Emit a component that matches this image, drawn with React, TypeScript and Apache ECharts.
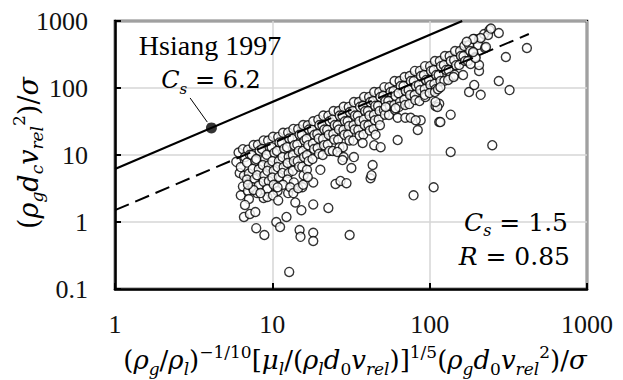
import { useEffect, useRef } from 'react';
import * as echarts from 'echarts';

const xTickLabels = ['1', '10', '100', '1000'];
const yTickLabels = ['0.1', '1', '10', '100', '1000'];

// Hsiang 1997 correlation (C_s = 6.2) and the fitted line (C_s = 1.5)
const hsiangLine = [[1, 6.2], [161, 1000]];
const fitLine = [[1, 1.5], [427, 640]];
const hsiangMarker = [[4.1, 25.4]];
const leaderLine = [[3.0, 71], [3.86, 31]];

const denseBand = [
  [6.1, 10.9], [5.9, 7.9], [6.2, 5.4],
  [6.5, 12.2], [6.7, 9.3], [6.3, 6.6], [6.6, 4.9], [6.5, 3.4], [6.3, 2.5],
  [7.0, 12.0], [7.2, 10.1], [6.9, 7.7], [7.1, 5.3], [6.9, 4.3], [7.0, 2.9], [7.1, 2.2],
  [7.6, 14.1], [7.4, 10.0], [7.8, 8.2], [7.5, 6.2], [7.7, 4.4], [7.5, 3.3],
  [8.1, 14.2], [8.3, 11.6], [7.9, 8.7], [8.2, 6.1], [8.0, 5.0], [8.2, 3.5], [8.0, 2.7],
  [8.8, 16.5], [8.6, 12.3], [9.0, 8.8], [8.7, 7.1], [8.9, 5.0], [8.8, 4.0],
  [9.4, 16.4], [9.6, 13.0], [9.2, 10.1], [9.5, 7.0], [9.3, 5.8], [9.5, 4.1], [9.3, 3.1],
  [10.1, 18.7], [9.9, 13.1], [10.3, 10.8], [10.0, 8.1], [10.2, 5.8], [10.0, 4.6], [10.2, 3.6],
  [10.9, 18.6], [11.1, 15.4], [10.7, 11.5], [11.0, 8.1], [10.8, 6.6], [11.0, 4.7], [10.8, 2.9],
  [11.7, 21.5], [11.5, 15.3], [11.9, 12.4], [11.6, 9.3], [11.8, 6.6], [11.6, 5.4],
  [12.6, 21.7], [12.8, 17.6], [12.4, 13.1], [12.7, 9.4], [12.5, 7.6], [12.7, 5.4], [12.5, 4.3],
  [13.6, 24.5], [13.4, 17.4], [13.8, 14.0], [13.5, 10.0], [13.7, 8.1], [13.5, 5.8], [13.7, 3.9],
  [14.6, 24.4], [14.9, 20.0], [14.4, 14.3], [14.7, 11.5], [14.5, 8.1], [14.8, 6.7],
  [15.7, 28.0], [15.4, 20.1], [16.0, 16.5], [15.6, 11.5], [15.9, 9.3], [15.5, 6.7], [15.8, 5.0],
  [16.8, 27.8], [17.1, 24.0], [16.5, 17.4], [16.9, 14.0], [16.6, 10.0], [17.0, 8.1],
  [18.2, 31.9], [17.9, 23.7], [18.5, 20.0], [18.1, 14.8], [18.4, 12.3], [18.0, 8.7],
  [19.6, 33.7], [19.9, 28.0], [19.3, 20.6], [19.7, 17.6], [19.4, 12.7], [19.8, 10.4],
  [21.1, 38.7], [20.8, 27.8], [21.4, 24.0], [21.0, 17.4], [21.3, 14.0], [20.9, 10.0],
  [22.7, 38.6], [23.1, 31.9], [22.3, 23.7], [22.8, 20.0], [22.5, 14.3], [23.0, 11.5],
  [24.5, 45.4], [24.1, 33.7], [24.9, 28.0], [24.4, 20.6], [24.7, 17.0], [24.2, 11.5],
  [26.4, 45.4], [26.8, 38.7], [26.0, 27.8], [26.5, 24.0], [26.2, 16.9], [26.7, 13.0],
  [28.4, 52.3], [27.9, 38.6], [28.9, 31.9], [28.3, 23.7], [28.7, 20.0], [28.1, 13.1],
  [30.6, 52.2], [31.1, 43.9], [30.1, 31.9], [30.7, 27.1], [30.3, 20.1], [30.9, 16.5],
  [33.0, 61.6], [32.5, 45.4], [33.5, 38.7], [32.8, 27.8], [33.3, 24.0], [32.7, 16.4],
  [35.5, 61.6], [36.1, 52.3], [34.9, 38.6], [35.7, 31.9], [35.2, 23.7], [35.9, 19.4],
  [38.3, 73.5], [37.7, 54.1], [38.9, 45.4], [38.1, 33.7], [38.6, 28.0], [37.9, 20.1],
  [41.2, 73.5], [41.9, 61.6], [40.5, 45.4], [41.4, 38.7], [40.8, 27.8], [41.6, 23.2],
  [44.4, 87.0], [43.7, 63.8], [45.1, 54.1], [44.2, 39.6], [44.8, 33.0], [43.9, 24.4],
  [47.8, 87.0], [48.6, 73.5], [47.0, 54.1], [48.0, 45.4], [47.4, 33.7], [48.3, 27.9],
  [51.5, 103], [50.7, 76.3], [52.3, 63.8], [51.2, 47.1], [51.9, 40.0],
  [55.5, 103], [56.4, 87.0], [54.6, 63.8], [55.8, 54.1], [55.1, 39.6],
  [59.8, 127], [58.9, 90.0], [60.7, 76.3], [59.5, 55.7], [60.3, 47.0],
  [64.4, 127], [65.4, 107], [63.4, 83.8], [64.7, 61.6], [64.0, 52.3],
  [69.3, 146], [68.2, 107], [70.4, 90.0], [69.0, 66.5], [69.8, 55.9],
  [74.7, 151], [75.9, 127], [73.5, 93.5], [75.0, 78.6], [74.2, 57.5],
  [80.5, 180], [79.2, 127], [81.8, 107], [80.2, 78.3], [81.0, 66.0],
  [86.7, 180], [88.1, 151], [85.3, 111], [87.0, 93.1], [86.1, 63.8],
  [93.4, 212], [91.9, 156], [94.9, 132], [93.0, 96.6], [93.9, 73.5],
  [100.6, 212], [102, 180], [99, 131], [101, 111],
  [108, 253], [106, 185], [110, 156], [107, 115], [109, 96],
  [116, 253], [118, 212], [114, 156], [117, 127],
  [125, 300], [123, 220], [127, 186], [124, 128],
  [134, 300], [136, 253], [132, 185], [135, 146],
  [145, 357], [143, 262], [147, 219], [144, 157],
  [156, 357], [158, 300], [154, 220],
  [166, 423], [164, 300], [168, 253],
  [178, 438], [181, 357], [175, 253],
  [192, 538], [189, 333], [195, 290],
  [206, 538], [203, 438],
  [222, 640], [225, 395],
  [240, 734], [275, 662],
];

const scattered = [
  [6.7, 1.8], [6.6, 1.19], [7.2, 1.32], [7.8, 1.41], [7.9, 0.81], [8.9, 0.64],
  [10.6, 1.0], [11.2, 0.84], [12.3, 1.19], [14.9, 0.76], [15.1, 0.6], [12.8, 0.18],
  [15.3, 1.5], [14.0, 1.96], [18.2, 1.83], [22.7, 1.62], [31, 0.64], [18.2, 0.69],
  [18.2, 0.52], [8.8, 2.28], [9.3, 2.36], [10.1, 2.5], [10.9, 2.1], [7.6, 3.0],
  [7.0, 3.6], [8.4, 2.7], [12.6, 2.7], [15.5, 3.3], [11.7, 3.6], [10.8, 3.3],
  [13.0, 3.3], [13.6, 2.7], [14.6, 3.2], [15.7, 3.6], [16.6, 6.0], [20.2, 6.0],
  [18.2, 3.9], [16.8, 4.7], [25.2, 3.7], [27.1, 4.1], [29.6, 3.8], [31.8, 6.4],
  [42.1, 4.5], [42.7, 5.0], [43.4, 7.1], [25.9, 11.1], [28.4, 9.3], [33, 9.3],
  [27.9, 8.4], [37.5, 15.1], [44.4, 14], [45.3, 20], [48.8, 13.1], [62.6, 16.7],
  [84, 23.6], [136, 11.1], [106, 3.3], [79, 2.5], [250, 14], [87.7, 33],
  [115, 31], [136, 40], [109, 54], [115, 58], [178, 87], [192, 111],
  [211, 79], [275, 127], [322, 93], [305, 290], [415, 395], [163, 156],
  [206, 180], [206, 220], [182, 228], [196, 280], [189, 345], [228, 409],
  [235, 618], [211, 557], [189, 540], [172, 490], [245, 770], [52.5, 52],
  [60.7, 50], [62.6, 36], [70, 36], [75.7, 36], [81.5, 33], [112, 52],
  [109, 62], [117, 31], [93, 79], [100, 84], [108, 87], [113, 96],
  [117, 103], [131, 132], [142, 146],
];

const SERIF = 'Liberation Serif';
const MATH = 'DejaVu Serif';

function richStyles(size: number) {
  const small = Math.round(size * 0.64);
  const common = { fontFamily: MATH, fill: '#000', color: '#000' };
  return {
    n: { ...common, fontSize: size, lineHeight: size + 8 },
    i: { ...common, fontStyle: 'italic', fontSize: size, lineHeight: size + 8 },
    sub: { ...common, fontStyle: 'italic', fontSize: small, lineHeight: small, verticalAlign: 'bottom' },
    subn: { ...common, fontSize: small, lineHeight: small, verticalAlign: 'bottom' },
    sup: { ...common, fontSize: small, lineHeight: small, verticalAlign: 'top' },
  };
}

const xTitle =
  '{n|(}{i|ρ}{sub|g}{n|/}{i|ρ}{sub|l}{n|)}{sup|−1/10}{n|[}{i|μ}{sub|l}{n|/(}{i|ρ}{sub|l}{i|d}{subn|0}{i|v}{sub|rel}{n|)]}{sup|1/5}{n|(}{i|ρ}{sub|g}{i|d}{subn|0}{i|v}{sub|rel}{sup|2}{n|)/}{i|σ}';
const yTitle = '{n|(}{i|ρ}{sub|g}{i|d}{sub|c}{i|v}{sub|rel}{sup|2}{n|)/}{i|σ}';

export default function App() {
  const ref = useRef<HTMLDivElement>(null);
  useEffect(() => {
    document.body.style.margin = '0';
    const chart = echarts.init(ref.current!, null, { renderer: 'svg' });
    const axisLabelStyle = { fontFamily: SERIF, fontSize: 26, color: '#111' };
    chart.setOption({
      animation: false,
      backgroundColor: '#fff',
      grid: { left: 115, right: 36, top: 21, bottom: 91, show: true, borderColor: '#000', borderWidth: 2.5, backgroundColor: 'transparent' },
      xAxis: {
        type: 'log', logBase: 10, min: 1, max: 1000,
        axisLine: { show: true, lineStyle: { color: '#000', width: 2.5 } },
        axisTick: { show: true, inside: true, length: 6, lineStyle: { color: '#000', width: 2 } },
        minorTick: { show: false },
        splitLine: { show: true, lineStyle: { color: '#d6d6d6', width: 1.5 } },
        axisLabel: {
          ...axisLabelStyle, margin: 22, showMinLabel: true, showMaxLabel: true,
          formatter: (v: number) => xTickLabels[Math.round(Math.log10(v))],
        },
      },
      yAxis: {
        type: 'log', logBase: 10, min: 0.1, max: 1000,
        axisLine: { show: true, lineStyle: { color: '#000', width: 2.5 } },
        axisTick: { show: true, inside: true, length: 6, lineStyle: { color: '#000', width: 2 } },
        minorTick: { show: false },
        splitLine: { show: true, lineStyle: { color: '#d6d6d6', width: 1.5 } },
        axisLabel: {
          ...axisLabelStyle, margin: 27, showMinLabel: true, showMaxLabel: true,
          formatter: (v: number) => yTickLabels[Math.round(Math.log10(v)) + 1],
        },
      },
      series: [
        {
          type: 'scatter', data: denseBand.concat(scattered), symbol: 'circle', symbolSize: 9,
          itemStyle: { color: '#fff', borderColor: '#000', borderWidth: 1.4 }, z: 2,
        },
        {
          type: 'line', data: fitLine, symbol: 'none', z: 3,
          lineStyle: { color: '#000', width: 2, type: [15, 7] },
        },
        {
          type: 'line', data: hsiangLine, symbol: 'none', z: 3,
          lineStyle: { color: '#000', width: 2.2 },
        },
        {
          type: 'line', data: leaderLine, symbol: 'none', z: 3,
          lineStyle: { color: '#000', width: 1 },
        },
        {
          type: 'scatter', data: hsiangMarker, symbol: 'circle', symbolSize: 11,
          itemStyle: { color: '#000' }, z: 4,
        },
      ],
      graphic: [
        {
          type: 'text', x: 210, y: 45, z: 10,
          style: { text: 'Hsiang 1997', fontFamily: SERIF, fontSize: 28, fill: '#000', align: 'center', verticalAlign: 'middle', textAlign: 'center', textVerticalAlign: 'middle' },
        },
        {
          type: 'text', x: 211, y: 80, z: 10,
          style: { text: '{i|C}{sub|s}{n| = 6.2}', rich: richStyles(24), align: 'center', verticalAlign: 'middle', textAlign: 'center', textVerticalAlign: 'middle' },
        },
        {
          type: 'text', x: 568, y: 222, z: 10,
          style: { text: '{i|C}{sub|s}{n| = 1.5}', rich: richStyles(25), align: 'right', verticalAlign: 'middle', textAlign: 'right', textVerticalAlign: 'middle' },
        },
        {
          type: 'text', x: 570, y: 256, z: 10,
          style: { text: '{i|R}{n| = 0.85}', rich: richStyles(25), align: 'right', verticalAlign: 'middle', textAlign: 'right', textVerticalAlign: 'middle' },
        },
        {
          type: 'text', x: 355, y: 360, z: 10,
          style: { text: xTitle, rich: richStyles(26), align: 'center', verticalAlign: 'middle', textAlign: 'center', textVerticalAlign: 'middle' },
        },
        {
          type: 'text', x: 28, y: 153, rotation: Math.PI / 2, z: 10,
          style: { text: yTitle, rich: richStyles(27), align: 'center', verticalAlign: 'middle', textAlign: 'center', textVerticalAlign: 'middle' },
        },
      ],
    });
    return () => chart.dispose();
  }, []);
  return <div ref={ref} style={{ width: 623, height: 380 }} />;
}
